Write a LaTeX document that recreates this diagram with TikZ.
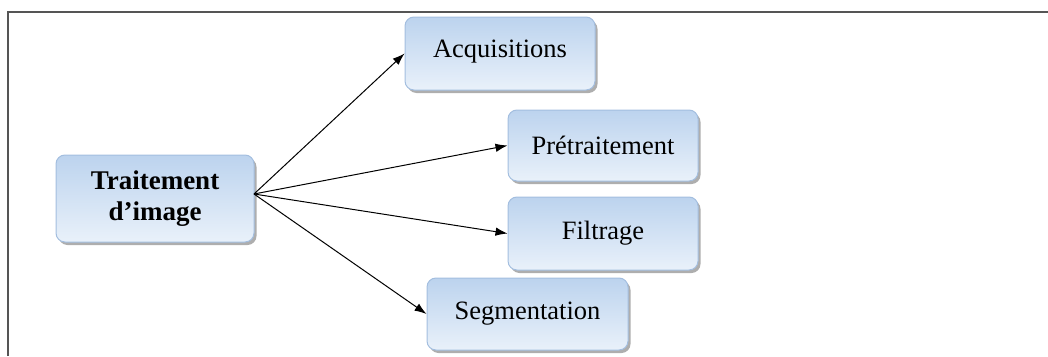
\documentclass[tikz,border=0pt]{standalone}
\usepackage{fontspec}
\setmainfont{Liberation Serif}
\usetikzlibrary{shadows,arrows.meta}
\definecolor{boxtop}{HTML}{BCD3EE}
\definecolor{boxbot}{HTML}{E9F1FA}
\definecolor{boxline}{HTML}{A3BEDF}
\definecolor{framegray}{HTML}{555555}
\tikzset{
  stagebox/.style={draw=boxline, line width=1pt, rounded corners=9pt,
    top color=boxtop, bottom color=boxbot,
    drop shadow={shadow xshift=2.5pt, shadow yshift=-3pt, fill=black!45, opacity=0.7},
    inner sep=0pt, font=\fontsize{26.5}{30}\selectfont, align=center},
  link/.style={line width=1pt, -{Latex[length=12pt,width=8.5pt]}}
}
\begin{document}
\begin{tikzpicture}[x=1pt,y=-1pt]
  \useasboundingbox (0,0) rectangle (1048,356);
  % open frame
  \draw[framegray, line width=2pt] (8,356) -- (8,12) -- (1048,12);
  % boxes
  \node[stagebox, minimum width=198pt, minimum height=87pt,
        font=\fontsize{27}{31}\selectfont\bfseries] (trait) at (155,198.5) {Traitement\\d’image};
  \node[stagebox, minimum width=190pt, minimum height=73pt, text depth=10pt] (acq) at (500,53.5) {Acquisitions};
  \node[stagebox, minimum width=190pt, minimum height=71pt] (pre) at (603,145.5) {Prétraitement};
  \node[stagebox, minimum width=190pt, minimum height=73pt] (fil) at (603,233.5) {Filtrage};
  \node[stagebox, minimum width=201pt, minimum height=72pt] (seg) at (527.5,314) {Segmentation};
  % connectors
  \coordinate (hub) at (254,194);
  \draw[link] (hub) -- (acq.west);
  \draw[link] (hub) -- (pre.west);
  \draw[link] (hub) -- (fil.west);
  \draw[link] (hub) -- (seg.west);
\end{tikzpicture}
\end{document}
